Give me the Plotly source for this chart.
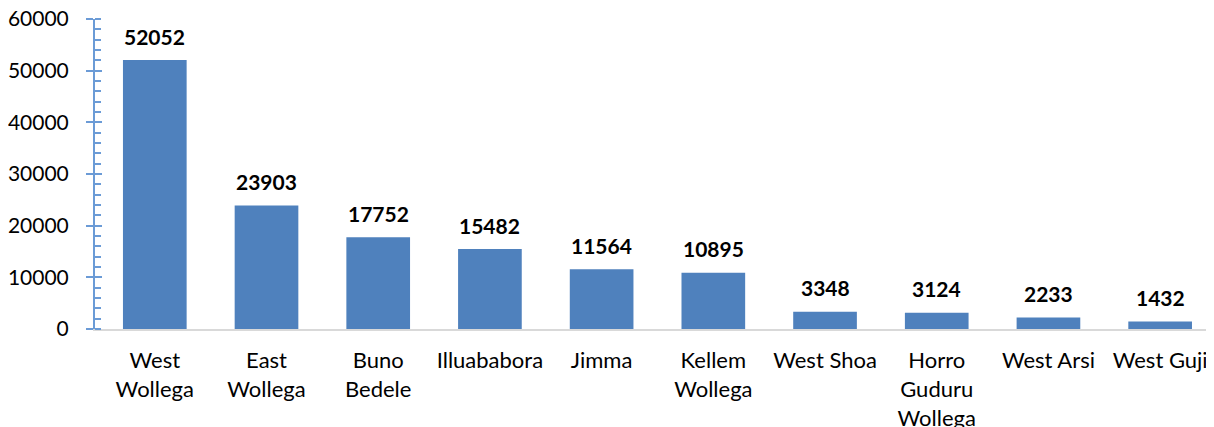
import plotly.graph_objects as go

categories = ["West<br>Wollega", "East<br>Wollega", "Buno<br>Bedele", "Illuababora", "Jimma",
              "Kellem<br>Wollega", "West Shoa", "Horro<br>Guduru<br>Wollega", "West Arsi", "West Guji"]
values = [52052, 23903, 17752, 15482, 11564, 10895, 3348, 3124, 2233, 1432]
y_ticks = [0, 10000, 20000, 30000, 40000, 50000, 60000]
y_tick_text = ["0", "10000", "20000", "30000", "40000", "50000", "60000"]

bar_color = "#4f81bd"
axis_color = "#6b9bd6"
font_family = "Lato, Carlito, Calibri, sans-serif"

fig = go.Figure()
fig.add_trace(go.Bar(x=categories, y=values, marker=dict(color=bar_color, line=dict(width=0)),
                     width=0.57, hoverinfo="x+y"))

for c, v in zip(categories, values):
    fig.add_annotation(x=c, y=v, text="<b>%d</b>" % v, showarrow=False, yshift=24,
                       font=dict(family=font_family, size=21, color="#000000"))

fig.update_layout(
    width=1214, height=427,
    margin=dict(l=87, r=6, t=11, b=106, autoexpand=False),
    plot_bgcolor="white", paper_bgcolor="white",
    showlegend=False,
    font=dict(family=font_family, size=21, color="#000000"),
    xaxis=dict(showline=True, linecolor="#d9d9d9", linewidth=2, ticks="", showgrid=False,
               tickfont=dict(size=22), ticklabelstandoff=11, automargin=False),
    yaxis=dict(range=[0, 60000], tickvals=y_ticks, ticktext=y_tick_text, showgrid=False, zeroline=False,
               showline=True, linecolor=axis_color, linewidth=2,
               ticks="outside", ticklen=7, tickcolor=axis_color, tickwidth=2,
               ticklabelstandoff=13, tickfont=dict(size=21), automargin=False,
               ticklabeloverflow="allow",
               minor=dict(dtick=2000, ticks="inside", ticklen=6, tickcolor=axis_color, tickwidth=1.5)),
    yaxis2=dict(range=[0, 60000], overlaying="y", tickvals=y_ticks, showgrid=False, zeroline=False,
                showticklabels=False, showline=False, ticks="inside", ticklen=7, automargin=False,
                tickcolor=axis_color, tickwidth=2, side="left"),
)
fig.add_trace(go.Scatter(x=[categories[0]], y=[0], yaxis="y2", mode="markers",
                         marker=dict(opacity=0), hoverinfo="skip", showlegend=False))

fig.write_html("out.html")
